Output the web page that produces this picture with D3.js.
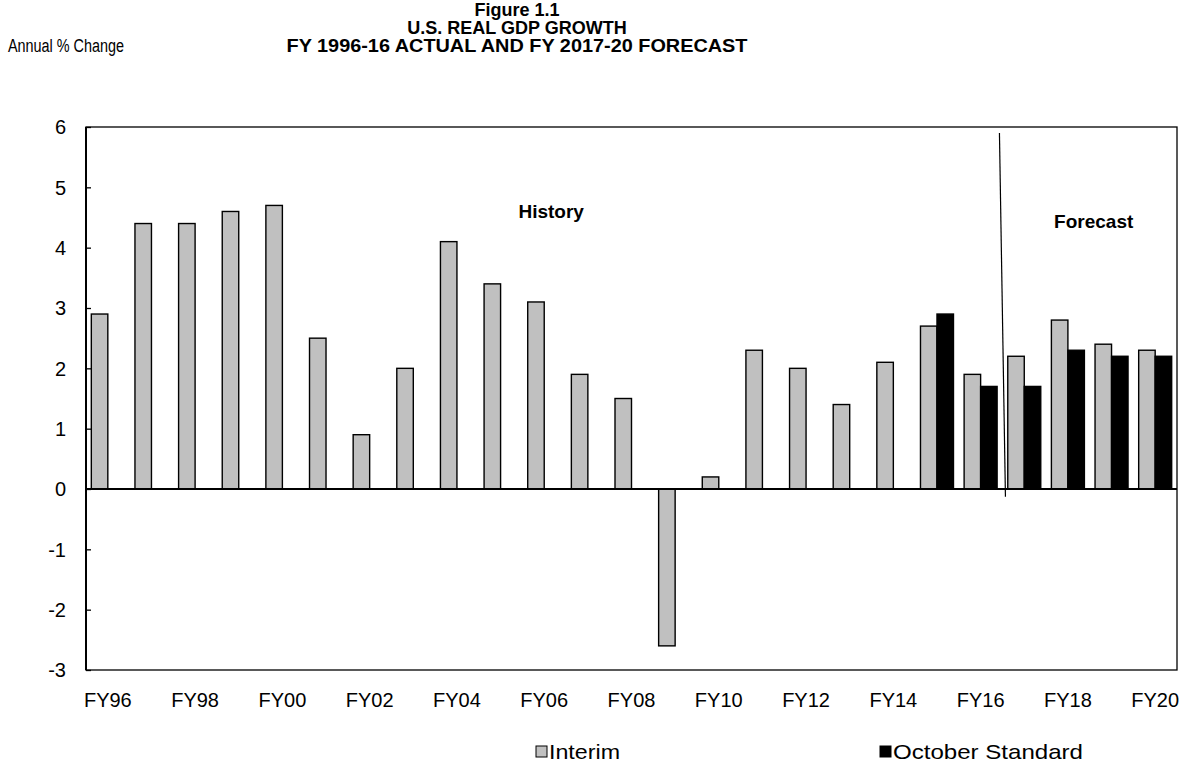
<!DOCTYPE html>
<html>
<head>
<meta charset="utf-8">
<script src="https://cdn.jsdelivr.net/npm/d3@7"></script>
<style>
  body { margin: 0; background: #fff; }
  text { font-family: "Liberation Sans", Arial, sans-serif; fill: #000; }
</style>
</head>
<body>
<div id="chart"></div>
<script>
(function() {

    // data
    let years = ["FY96","FY97","FY98","FY99","FY00","FY01","FY02","FY03","FY04","FY05",
                 "FY06","FY07","FY08","FY09","FY10","FY11","FY12","FY13","FY14","FY15",
                 "FY16","FY17","FY18","FY19","FY20"];
    let interim = [2.9, 4.4, 4.4, 4.6, 4.7, 2.5, 0.9, 2.0, 4.1, 3.4,
                   3.1, 1.9, 1.5, -2.6, 0.2, 2.3, 2.0, 1.4, 2.1, 2.7,
                   1.9, 2.2, 2.8, 2.4, 2.3];
    let october = [null, null, null, null, null, null, null, null, null, null,
                   null, null, null, null, null, null, null, null, null, 2.9,
                   1.7, 1.7, 2.3, 2.2, 2.2];
    let seriesNames = ["Interim", "October Standard"];
    let yTicks = [-3, -2, -1, 0, 1, 2, 3, 4, 5, 6];
    let xLabels = years.filter((d, i) => i % 2 === 0);

    let width = 1186,
        height = 778;
    let margin = {top: 127, right: 9, bottom: 108, left: 86};
    let plotW = width - margin.left - margin.right,
        plotH = height - margin.top - margin.bottom;

    let svg = d3.select("#chart")
        .append("svg")
        .attr("width", width)
        .attr("height", height);

    let g = svg.append("g")
        .attr("transform", `translate(${margin.left}, ${margin.top})`);

    let x = d3.scaleBand()
        .domain(years)
        .range([0, plotW])
        .padding(0);

    // two bars per year, ~33px for the pair, centred in the band
    let pad = (x.bandwidth() - 33) / 2;
    let x1 = d3.scaleBand()
        .domain(seriesNames)
        .range([pad, x.bandwidth() - pad]);

    let y = d3.scaleLinear()
        .domain([-3, 6])
        .range([plotH, 0]);

    let color = d3.scaleOrdinal()
        .domain(seriesNames)
        .range(["#c0c0c0", "#000000"]);

    // plot frame
    g.append("rect")
        .attr("x", 0).attr("y", 0)
        .attr("width", plotW).attr("height", plotH)
        .attr("fill", "none")
        .attr("stroke", "#000")
        .attr("stroke-width", 1.3);

    // bars
    let rows = years.map((d, i) => ({year: d, vals: [
        {name: seriesNames[0], value: interim[i]},
        {name: seriesNames[1], value: october[i]}
    ]}));

    g.selectAll(".grp")
        .data(rows)
        .enter().append("g")
        .attr("transform", d => `translate(${x(d.year)}, 0)`)
        .selectAll("rect")
        .data(d => d.vals.filter(v => v.value !== null))
        .enter().append("rect")
        .attr("x", d => x1(d.name))
        .attr("width", x1.bandwidth())
        .attr("y", d => y(Math.max(0, d.value)))
        .attr("height", d => Math.abs(y(d.value) - y(0)))
        .attr("fill", d => color(d.name))
        .attr("stroke", "#000")
        .attr("stroke-width", 1.4);

    // y axis, ticks point inward
    let yAxis = g.append("g")
        .call(d3.axisRight(y).tickValues(yTicks).tickSize(5).tickFormat(""));
    yAxis.select(".domain").remove();
    yAxis.selectAll("line").attr("stroke", "#000").attr("stroke-width", 1.3);

    g.append("line")
        .attr("x1", 0).attr("x2", 0)
        .attr("y1", 0).attr("y2", plotH)
        .attr("stroke", "#000").attr("stroke-width", 2);

    g.selectAll(".ylab")
        .data(yTicks)
        .enter().append("text")
        .attr("x", -20)
        .attr("y", d => y(d))
        .attr("dy", "0.36em")
        .attr("text-anchor", "end")
        .style("font-size", "20px")
        .text(d => d);

    // zero line
    g.append("line")
        .attr("x1", 0).attr("x2", plotW)
        .attr("y1", y(0)).attr("y2", y(0))
        .attr("stroke", "#000").attr("stroke-width", 2);

    // x labels sit below the plot
    g.selectAll(".xlab")
        .data(xLabels)
        .enter().append("text")
        .attr("x", d => x(d) + x.bandwidth() / 2)
        .attr("y", plotH + 37)
        .attr("text-anchor", "middle")
        .style("font-size", "20px")
        .text(d => d);

    // history / forecast divider
    let divX = x("FY17");
    g.append("line")
        .attr("x1", divX - 3).attr("y1", y(5.9))
        .attr("x2", divX + 3).attr("y2", y(-0.13))
        .attr("stroke", "#000").attr("stroke-width", 1.2);

    g.append("text")
        .attr("x", x("FY06") + x.bandwidth() * 0.66)
        .attr("y", y(4.5))
        .attr("text-anchor", "middle")
        .style("font-size", "19px")
        .style("font-weight", "bold")
        .text("History");

    g.append("text")
        .attr("x", x("FY19") + 4)
        .attr("y", y(4.33))
        .attr("text-anchor", "middle")
        .style("font-size", "19px")
        .style("font-weight", "bold")
        .text("Forecast");

    // titles
    let titles = ["Figure 1.1", "U.S. REAL GDP GROWTH", "FY 1996-16 ACTUAL AND FY 2017-20 FORECAST"];
    svg.selectAll(".title")
        .data(titles)
        .enter().append("text")
        .attr("x", 517)
        .attr("y", (d, i) => 16 + i * 18)
        .attr("text-anchor", "middle")
        .attr("textLength", (d, i) => i === 2 ? 461 : null)
        .attr("lengthAdjust", "spacingAndGlyphs")
        .style("font-size", "18px")
        .style("font-weight", "bold")
        .text(d => d);

    svg.append("text")
        .attr("x", 8)
        .attr("y", 52)
        .attr("textLength", 116)
        .attr("lengthAdjust", "spacingAndGlyphs")
        .style("font-size", "18px")
        .text("Annual % Change");

    // legend
    let legendX = [536, 880];
    let legendW = [71, 190];
    let legend = svg.selectAll(".legend")
        .data(seriesNames)
        .enter().append("g")
        .attr("transform", (d, i) => `translate(${legendX[i]}, 746)`);
    legend.append("rect")
        .attr("width", 11).attr("height", 11)
        .attr("fill", d => color(d))
        .attr("stroke", "#000").attr("stroke-width", 1);
    legend.append("text")
        .attr("x", 13)
        .attr("y", 13)
        .attr("textLength", (d, i) => legendW[i])
        .attr("lengthAdjust", "spacingAndGlyphs")
        .style("font-size", "21px")
        .text(d => d);

})();
</script>
</body>
</html>
